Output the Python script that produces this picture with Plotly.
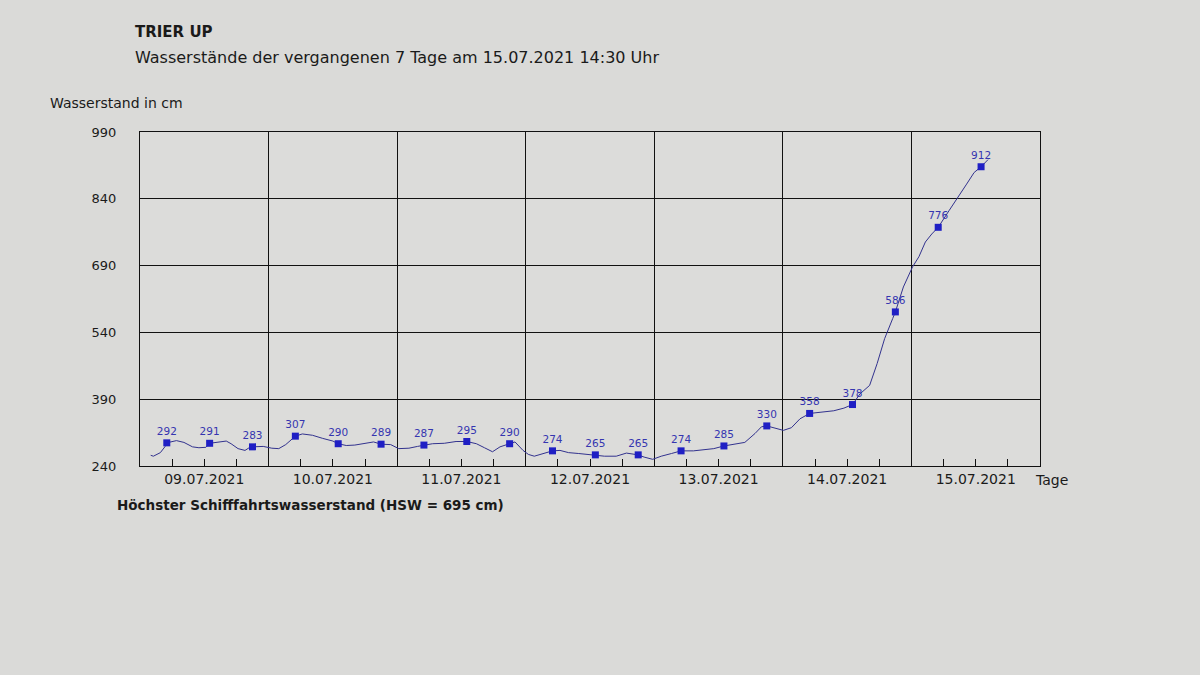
import pandas as pd
import plotly.graph_objects as go

# ---------------- data ----------------
start = pd.Timestamp("2021-07-09 00:00")

line_hours = [2.0, 2.5, 3.8, 4.7, 5, 6.8, 8.2, 9.8, 11.0, 12.3, 13, 14.6, 16.1, 17.0, 18.3,
              19.6, 20.5, 21, 23.0, 24.6, 25.9, 27.2, 29, 30.3, 32.2, 34.1, 36, 37, 38.5,
              40.1, 42, 43.6, 45, 46.8, 48.3, 50.2, 51.8, 53, 54.6, 56.8, 59, 61, 62.8,
              64.3, 65.8, 67.2, 69, 70, 71.5, 72.5, 73.6, 75.2, 77, 78.4, 80, 81.9, 85,
              86.7, 88.9, 90.8, 93, 94.1, 95.7, 97.3, 99.2, 101, 103.3, 105.5, 107.1, 109,
              110.7, 112.9, 114.8, 116, 117, 118.2, 120.1, 121.6, 123.2, 125, 127, 129.5,
              131.4, 133, 134.4, 136.2, 137.6, 139.0, 140.5, 141, 142.5, 144.2, 145.4,
              146.6, 147.8, 149, 151, 152.5, 154.3, 155.7, 157, 158.3]
line_values = [264, 262, 270, 284, 292, 297, 293, 283, 281, 282, 291, 294, 296, 290, 279,
               275, 282, 283, 284, 280, 279, 288, 307, 312, 309, 302, 296, 290, 286,
               287, 290, 294, 289, 288, 279, 280, 284, 287, 290, 291, 295, 295, 290,
               281, 272, 283, 290, 294, 275, 266, 262, 268, 274, 275, 270, 268, 265,
               262, 262, 269, 265, 260, 255, 262, 268, 274, 274, 276, 279, 285,
               289, 293, 313, 328, 330, 326, 320, 326, 346, 358, 361, 364,
               370, 378, 402, 421, 470, 526, 571, 586, 642, 687, 710,
               743, 761, 776, 813, 839, 873, 899, 912, 928]

marker_times = ["2021-07-09 05:00", "2021-07-09 13:00", "2021-07-09 21:00",
                "2021-07-10 05:00", "2021-07-10 13:00", "2021-07-10 21:00",
                "2021-07-11 05:00", "2021-07-11 13:00", "2021-07-11 21:00",
                "2021-07-12 05:00", "2021-07-12 13:00", "2021-07-12 21:00",
                "2021-07-13 05:00", "2021-07-13 13:00", "2021-07-13 21:00",
                "2021-07-14 05:00", "2021-07-14 13:00", "2021-07-14 21:00",
                "2021-07-15 05:00", "2021-07-15 13:00"]
marker_values = [292, 291, 283, 307, 290, 289, 287, 295, 290, 274, 265, 265,
                 274, 285, 330, 358, 378, 586, 776, 912]

y_ticks = [240, 390, 540, 690, 840, 990]

title_text = "TRIER UP"
subtitle_text = "Wasserstände der vergangenen 7 Tage am 15.07.2021 14:30 Uhr"
y_label = "Wasserstand in cm"
x_label = "Tage"
hsw_text = "Höchster Schifffahrtswasserstand (HSW = 695 cm)"

# ---------------- figure ----------------
line_x = [start + pd.Timedelta(hours=h) for h in line_hours]
FONT = "DejaVu Sans"

fig = go.Figure()
fig.add_trace(go.Scatter(
    x=line_x, y=line_values, mode="lines",
    line=dict(color="#32328e", width=1),
    hoverinfo="skip", showlegend=False))
fig.add_trace(go.Scatter(
    x=pd.to_datetime(marker_times), y=marker_values, mode="markers+text",
    marker=dict(symbol="square", size=7, color="#1f1fc4"),
    text=[str(v) for v in marker_values], textposition="top center",
    textfont=dict(family=FONT, size=10.5, color="#3535b0"),
    showlegend=False))

fig.update_layout(
    width=1200, height=675,
    margin=dict(l=140, r=160, t=132, b=209),
    paper_bgcolor="#dadad8", plot_bgcolor="#dcdcda",
    font=dict(family=FONT, color="#1a1a1a"),
    xaxis=dict(
        type="date", range=["2021-07-09", "2021-07-16"],
        tick0="2021-07-09", dtick=86400000, ticklabelmode="period",
        tickformat="%d.%m.%Y", tickfont=dict(size=14, color="#1a1a1a"),
        showgrid=True, gridcolor="#111111", gridwidth=1,
        showline=True, linecolor="#111111", linewidth=1, mirror=True,
        ticks="", zeroline=False,
        minor=dict(dtick=21600000, tick0="2021-07-09", ticks="inside",
                   ticklen=7, tickcolor="#111111", showgrid=False),
    ),
    yaxis=dict(
        range=[240, 990], tickvals=y_ticks, ticktext=[str(v) for v in y_ticks],
        tickfont=dict(size=13, color="#1a1a1a"),
        showgrid=True, gridcolor="#111111", gridwidth=1,
        showline=True, linecolor="#111111", linewidth=1, mirror=True,
        ticks="", zeroline=False, ticklabelstandoff=20,
    ),
    annotations=[
        dict(text="<b>" + title_text + "</b>", xref="paper", yref="paper",
             x=-0.008, y=1.299, xanchor="left", yanchor="middle", showarrow=False,
             font=dict(family=FONT, size=15, color="#1a1a1a")),
        dict(text=subtitle_text, xref="paper", yref="paper",
             x=-0.008, y=1.224, xanchor="left", yanchor="middle", showarrow=False,
             font=dict(family=FONT, size=16, color="#1a1a1a")),
        dict(text=y_label, xref="paper", yref="paper",
             x=-0.102, y=1.087, xanchor="left", yanchor="middle", showarrow=False,
             font=dict(family=FONT, size=14, color="#1a1a1a")),
        dict(text=x_label, xref="paper", yref="paper",
             x=0.992, y=-0.042, xanchor="left", yanchor="middle", showarrow=False,
             font=dict(family=FONT, size=14, color="#1a1a1a")),
        dict(text="<b>" + hsw_text + "</b>", xref="paper", yref="paper",
             x=-0.028, y=-0.117, xanchor="left", yanchor="middle", showarrow=False,
             font=dict(family=FONT, size=13.5, color="#1a1a1a")),
    ],
)

fig.write_html(
    "out.html",
    config={"displayModeBar": False},
    post_script="document.body.style.margin='0';document.body.style.background='#dadad8';",
)
